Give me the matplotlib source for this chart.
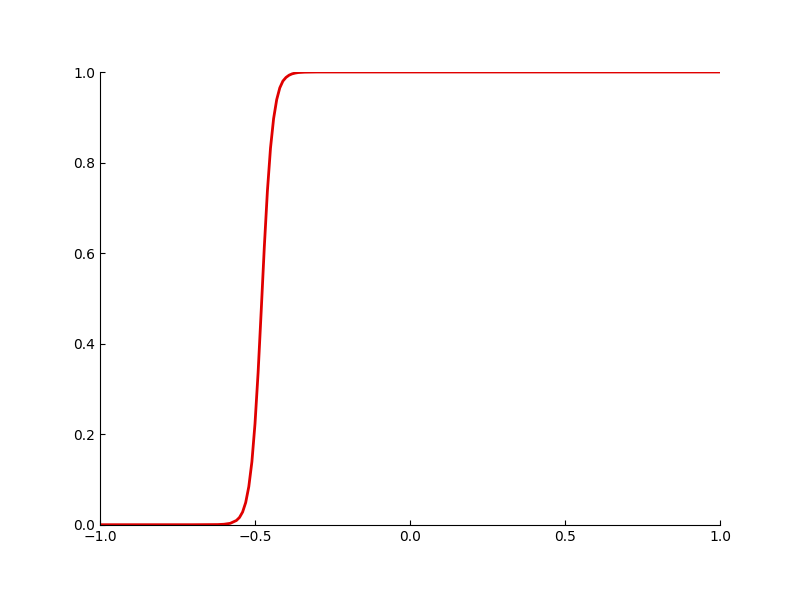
import matplotlib
matplotlib.use("Agg")
import matplotlib.pyplot as plt

x_vals = [-1.0, -0.70, -0.62, -0.60, -0.58, -0.56, -0.55, -0.54, -0.53, -0.52, -0.51,
          -0.50, -0.49, -0.48, -0.47, -0.46, -0.45, -0.44, -0.43, -0.42, -0.41,
          -0.40, -0.39, -0.38, -0.37, -0.36, -0.34, -0.30, 1.0]
y_vals = [0.0, 0.0, 0.0003, 0.001, 0.003, 0.0093, 0.016, 0.028, 0.049, 0.084, 0.139,
          0.223, 0.336, 0.472, 0.613, 0.737, 0.832, 0.897, 0.939, 0.965, 0.980,
          0.988, 0.993, 0.996, 0.9977, 0.9988, 0.9996, 1.0, 1.0]

x_ticks = [-1.0, -0.5, 0.0, 0.5, 1.0]
y_ticks = [0.0, 0.2, 0.4, 0.6, 0.8, 1.0]

fig = plt.figure(figsize=(8, 6), dpi=100)
ax = fig.add_axes([0.125, 0.1255, 0.775, 0.7545])
ax.plot(x_vals, y_vals, color="#e00000", linewidth=2)
ax.set_xlim(-1, 1)
ax.set_ylim(0, 1)
ax.set_xticks(x_ticks)
ax.set_yticks(y_ticks)
ax.spines["top"].set_visible(False)
ax.spines["right"].set_visible(False)
ax.tick_params(direction="in")
ax.xaxis.set_ticks_position("bottom")
ax.yaxis.set_ticks_position("left")
fig.savefig("out.png", dpi=100)
